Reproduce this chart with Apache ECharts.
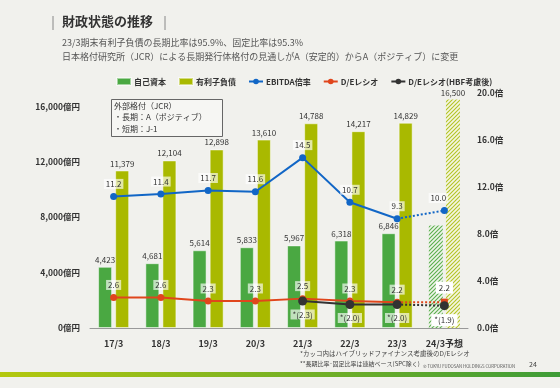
<!DOCTYPE html>
<html><head><meta charset="utf-8">
<script src="https://cdn.jsdelivr.net/npm/echarts@6/dist/echarts.min.js"></script>
<style>html,body{margin:0;padding:0;background:#f1f1ed;}#c{width:560px;height:388px;}</style>
</head><body><div id="c"></div>
<script>
const categories = ['17/3','18/3','19/3','20/3','21/3','22/3','23/3','24/3予想'];
const equity = [4423, 4681, 5614, 5833, 5967, 6318, 6846, 7400];
const debt = [11379, 12104, 12898, 13610, 14788, 14217, 14829, 16500];
const ebitda = [11.2, 11.4, 11.7, 11.6, 14.5, 10.7, 9.3, 10.0];
const deRatio = [2.6, 2.6, 2.3, 2.3, 2.5, 2.3, 2.2, 2.2];
const deHbf = [null, null, null, null, 2.3, 2.0, 2.0, 1.9];
const leftTicks = ['0億円','4,000億円','8,000億円','12,000億円','16,000億円'];
const rightTicks = ['0.0倍','4.0倍','8.0倍','12.0倍','16.0倍','20.0倍'];
const FC = 7; // forecast index

const FONT = '"Noto Sans CJK JP", "Noto Sans", sans-serif';
function hatch(bg, fg) {
  const c = document.createElement('canvas');
  c.width = 4; c.height = 4;
  const x = c.getContext('2d');
  x.fillStyle = bg; x.fillRect(0, 0, 4, 4);
  x.strokeStyle = fg; x.lineWidth = 1.1;
  x.beginPath(); x.moveTo(0, 4); x.lineTo(4, 0); x.stroke();
  x.beginPath(); x.moveTo(-1, 1); x.lineTo(1, -1); x.stroke();
  x.beginPath(); x.moveTo(3, 5); x.lineTo(5, 3); x.stroke();
  return { image: c, repeat: 'repeat' };
}
const fmtN = v => String(v).replace(/\B(?=(\d{3})+(?!\d))/g, ',');
const GREEN = '#4aa842', YEL = '#a9b900', BLUE = '#1166c6', RED = '#e0461c', BLK = '#333';
const lblBg = 'rgba(255,255,255,0.65)';

const chart = echarts.init(document.getElementById('c'));
const baseLbl = { fontFamily: FONT, fontSize: 8, color: '#333' };

const eqData = equity.map((v, i) => i === FC ? { value: v, itemStyle: { color: hatch('#eef4ea', '#5aae4c'), borderWidth: 0 }, label: { show: false } } : v);
const debtData = debt.map((v, i) => i === FC ? { value: v, itemStyle: { color: hatch('#f4f6e2', '#b3c324'), borderWidth: 0 } } : v);
const solid = arr => arr.map((v, i) => i < FC ? v : null);
const dotted = arr => arr.map((v, i) => i === FC - 1 ? { value: v, label: { show: false }, symbolSize: 0 } : (i === FC ? v : null));

const lineLbl = (pos, fmt) => Object.assign({}, baseLbl, { show: true, position: pos, distance: 4, backgroundColor: lblBg, padding: [1, 2], formatter: fmt });

chart.setOption({
  backgroundColor: '#f1f1ed',
  animation: false,
  textStyle: { fontFamily: FONT },
  grid: { left: 90, right: 92, top: 93, bottom: 60 },
  legend: {
    left: 111, top: 72, itemGap: 12, itemWidth: 14, itemHeight: 7,
    textStyle: { fontFamily: FONT, fontSize: 8, fontWeight: 'bold', color: '#333', padding: [0, 0, 0, -2] },
    data: [
      { name: '自己資本', icon: 'rect' },
      { name: '有利子負債', icon: 'rect' },
      { name: 'EBITDA倍率' },
      { name: 'D/Eレシオ' },
      { name: 'D/Eレシオ(HBF考慮後)' }
    ]
  },
  xAxis: {
    type: 'category', data: categories,
    axisLine: { lineStyle: { color: '#999' } },
    axisTick: { inside: true, length: 4, lineStyle: { color: '#999' } },
    axisLabel: { interval: 0, fontFamily: FONT, fontSize: 9, fontWeight: 'bold', color: '#333', margin: 11 }
  },
  yAxis: [
    { type: 'value', min: 0, max: 16975, interval: 4000,
      axisLine: { show: false }, axisTick: { show: false }, splitLine: { show: false },
      axisLabel: { fontFamily: FONT, fontSize: 8.5, fontWeight: 'bold', color: '#333', margin: 10,
        formatter: v => v > 16000 ? '' : leftTicks[v / 4000] } },
    { type: 'value', min: 0, max: 20, interval: 4,
      axisLine: { show: false }, axisTick: { show: false }, splitLine: { show: false },
      axisLabel: { fontFamily: FONT, fontSize: 8.5, fontWeight: 'bold', color: '#333', margin: 9,
        formatter: v => rightTicks[Math.round(v / 4)] } }
  ],
  series: [
    { name: '自己資本', type: 'bar', barWidth: 14, barGap: '22%', data: eqData,
      itemStyle: { color: GREEN, borderColor: 'rgba(255,255,255,0.5)', borderWidth: 1 },
      label: Object.assign({}, baseLbl, { show: true, position: 'top', distance: 3, formatter: p => fmtN(p.value) }) },
    { name: '有利子負債', type: 'bar', barWidth: 14, data: debtData,
      itemStyle: { color: YEL, borderColor: 'rgba(255,255,255,0.5)', borderWidth: 1 },
      label: Object.assign({}, baseLbl, { show: true, position: 'top', distance: 3, formatter: p => fmtN(p.value) }) },
    { name: 'EBITDA倍率', type: 'line', yAxisIndex: 1, data: solid(ebitda), z: 5,
      symbol: 'circle', symbolSize: 7, itemStyle: { color: BLUE }, lineStyle: { color: BLUE, width: 2 },
      label: lineLbl('top', p => p.value.toFixed(1)) },
    { name: 'EBITDA倍率', type: 'line', yAxisIndex: 1, data: dotted(ebitda), z: 5,
      symbol: 'circle', symbolSize: 7, itemStyle: { color: BLUE }, lineStyle: { color: BLUE, width: 2, type: 'dotted' },
      label: Object.assign(lineLbl('top', p => p.value.toFixed(1)), { offset: [-6, 0] }) },
    { name: 'D/Eレシオ', type: 'line', yAxisIndex: 1, data: solid(deRatio), z: 6,
      symbol: 'circle', symbolSize: 7, itemStyle: { color: RED }, lineStyle: { color: RED, width: 2 },
      label: lineLbl('top', p => p.value.toFixed(1)) },
    { name: 'D/Eレシオ', type: 'line', yAxisIndex: 1, data: dotted(deRatio), z: 6,
      symbol: 'rect', symbolSize: 7, itemStyle: { color: RED }, lineStyle: { color: RED, width: 2, type: 'dotted' },
      label: Object.assign(lineLbl('top', p => p.value.toFixed(1)), { backgroundColor: '#fff', padding: [2, 3], distance: 5 }) },
    { name: 'D/Eレシオ(HBF考慮後)', type: 'line', yAxisIndex: 1, data: solid(deHbf), z: 7,
      symbol: 'circle', symbolSize: 9, itemStyle: { color: BLK }, lineStyle: { color: BLK, width: 2 },
      label: lineLbl('bottom', p => '*(' + p.value.toFixed(1) + ')') },
    { name: 'D/Eレシオ(HBF考慮後)', type: 'line', yAxisIndex: 1, data: dotted(deHbf), z: 7,
      symbol: 'circle', symbolSize: 9, itemStyle: { color: BLK }, lineStyle: { color: BLK, width: 2, type: 'dotted' },
      label: Object.assign(lineLbl('bottom', p => '*(' + p.value.toFixed(1) + ')'), { backgroundColor: '#fff', padding: [2, 3] }) }
  ],
  graphic: [
    { type: 'line', shape: { x1: 53, y1: 16, x2: 53, y2: 30 }, style: { stroke: '#888', lineWidth: 1 } },
    { type: 'line', shape: { x1: 165, y1: 16, x2: 165, y2: 30 }, style: { stroke: '#888', lineWidth: 1 } },
    { type: 'text', left: 62, top: 15, style: { text: '財政状態の推移', font: 'bold 13px ' + FONT, fill: '#333' } },
    { type: 'text', left: 62, top: 38, style: { text: '23/3期末有利子負債の長期比率は95.9%、固定比率は95.3%', font: '9px ' + FONT, fill: '#555' } },
    { type: 'text', left: 62, top: 52, style: { text: '日本格付研究所（JCR）による長期発行体格付の見通しがA（安定的）からA（ポジティブ）に変更', font: '9px ' + FONT, fill: '#555' } },
    { type: 'rect', shape: { x: 111.5, y: 99.5, width: 111, height: 37 }, style: { fill: '#f6f6f3', stroke: '#666', lineWidth: 1 }, z: 10 },
    { type: 'text', left: 114, top: 100, z: 11, style: { text: '外部格付（JCR）\n・長期：A（ポジティブ）\n・短期：J-1', font: '8px ' + FONT, fill: '#333', lineHeight: 11.5 } },
    { type: 'text', left: 300, top: 350, style: { text: '*カッコ内はハイブリッドファイナンス考慮後のD/Eレシオ', font: '6.5px ' + FONT, fill: '#444' } },
    { type: 'text', left: 300, top: 361, style: { text: '**長期比率･固定比率は連結ベース(SPC除く)', font: '6px ' + FONT, fill: '#444' } },
    { type: 'text', left: 423, top: 364, style: { text: '© TOKYU FUDOSAN HOLDINGS CORPORATION', font: '4.3px ' + FONT, fill: '#555' } },
    { type: 'text', left: 529, top: 361, style: { text: '24', font: '7px ' + FONT, fill: '#444' } },
    { type: 'rect', shape: { x: 0, y: 372, width: 560, height: 5 },
      style: { fill: new echarts.graphic.LinearGradient(0, 0, 1, 0, [{ offset: 0, color: '#b4c80e' }, { offset: 1, color: '#3e9c38' }]) } }
  ]
});
</script></body></html>
